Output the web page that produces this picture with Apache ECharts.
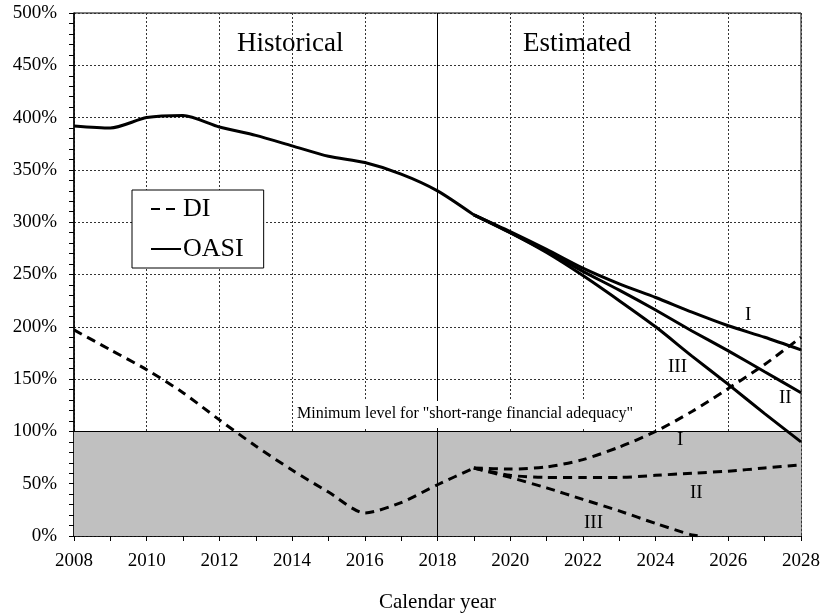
<!DOCTYPE html>
<html>
<head>
<meta charset="utf-8">
<script src="https://cdn.jsdelivr.net/npm/echarts@6/dist/echarts.min.js"></script>
<style>
  html, body { margin: 0; padding: 0; background: #fff; }
  #chart { width: 820px; height: 613px; }
</style>
</head>
<body>
<div id="chart"></div>
<script>
// trust fund ratios, % of annual cost
var histYears = [2008, 2009, 2010, 2011, 2012, 2013, 2014, 2015, 2016, 2017, 2018, 2019];
var diHist   = [197, 178, 159, 137, 111, 86, 63, 42, 22, 32, 49, 65];
var oasiHist = [392, 390, 400, 402, 391, 383, 373, 363, 357, 346, 330, 307];

var projYears = [2019, 2020, 2021, 2022, 2023, 2024, 2025, 2026, 2027, 2028];
var diI    = [65, 64, 66, 73, 85, 100, 119, 141, 164, 190];
var diII   = [65, 58, 56, 56, 56, 58, 60, 62, 65, 68];
var diIII  = [65, 56, 46, 35, 24, 12, 1];
var diIIIEnd = [2025.3, 0];
var oasiI   = [307, 291, 274, 256, 241, 228, 214, 201, 190, 178];
var oasiII  = [307, 290, 272, 253, 235, 216, 196, 177, 157, 137];
var oasiIII = [307, 290, 271, 249, 225, 200, 172, 145, 117, 90];

var font = 'Liberation Serif, Times New Roman, serif';

function pairs(xs, ys) {
  var out = [];
  for (var i = 0; i < ys.length; i++) out.push([xs[i], ys[i]]);
  return out;
}

var dashed = {color: '#000', width: 3, type: [9, 6]};
var solid = {color: '#000', width: 3, type: 'solid'};

function line(name, data, style) {
  return {
    name: name, type: 'line', data: data, smooth: 0.25,
    symbol: 'none', lineStyle: style, itemStyle: {color: '#000'}, z: 5
  };
}

var diIIIData = pairs(projYears, diIII);
diIIIData.push(diIIIEnd);

var series = [
  line('DI', pairs(histYears, diHist), dashed),
  line('DI', pairs(projYears, diI), dashed),
  line('DI', pairs(projYears, diII), dashed),
  line('DI', diIIIData, dashed),
  line('OASI', pairs(histYears, oasiHist), solid),
  line('OASI', pairs(projYears, oasiI), solid),
  line('OASI', pairs(projYears, oasiII), solid),
  line('OASI', pairs(projYears, oasiIII), solid)
];

// shaded band below 100% and the historical / estimated divider
series[0].markArea = {
  silent: true,
  itemStyle: {color: '#c0c0c0'},
  data: [[{yAxis: 0}, {yAxis: 100}]]
};
series[0].markLine = {
  silent: true, symbol: 'none', label: {show: false},
  lineStyle: {color: '#000', width: 1, type: 'solid'},
  data: [{yAxis: 100}, {xAxis: 2018}]
};

var myChart = echarts.init(document.getElementById('chart'));

function txt(x, y, text, size, bg) {
  var el = {
    type: 'text', left: x, top: y, z: 100,
    style: {text: text, font: size + 'px ' + font, fill: '#000'}
  };
  if (bg) { el.style.backgroundColor = '#fff'; el.style.padding = [5, 1, 6, 1]; }
  return el;
}

var option = {
  animation: false,
  backgroundColor: '#fff',
  grid: {
    left: 74, right: 19, top: 13, bottom: 77, outerBoundsMode: 'none', containLabel: false,
    show: true, borderColor: '#000', borderWidth: 1, backgroundColor: 'transparent'
  },
  legend: {
    data: ['DI', 'OASI'],
    orient: 'vertical',
    left: 132, top: 190,
    backgroundColor: '#fff',
    borderColor: '#000', borderWidth: 1,
    padding: [6, 20, 6, 18],
    itemWidth: 30, itemHeight: 14, itemGap: 14,
    selectedMode: false,
    itemStyle: {color: 'transparent', borderColor: 'transparent', borderWidth: 0, opacity: 0},
    textStyle: {fontFamily: font, fontSize: 26, color: '#000', lineHeight: 26, padding: [0, 0, 0, -3]}
  },
  xAxis: {
    type: 'value', min: 2008, max: 2028, interval: 2,
    name: 'Calendar year', nameLocation: 'middle', nameGap: 56,
    nameTextStyle: {fontFamily: font, fontSize: 21, color: '#000'},
    axisLine: {show: true, lineStyle: {color: '#000', width: 1.5}},
    axisTick: {show: true, length: 5, lineStyle: {color: '#000'}},
    minorTick: {show: true, splitNumber: 2, length: 5, lineStyle: {color: '#000'}},
    axisLabel: {fontFamily: font, fontSize: 19, color: '#000', margin: 16, formatter: function (v) { return String(v); }},
    splitLine: {show: true, lineStyle: {color: '#333', width: 1, type: [2, 2]}}
  },
  yAxis: {
    type: 'value', min: 0, max: 500, interval: 50,
    axisLine: {show: true, lineStyle: {color: '#000', width: 1.5}},
    axisTick: {show: true, length: 5, lineStyle: {color: '#000'}},
    minorTick: {show: true, splitNumber: 5, length: 5, lineStyle: {color: '#000'}},
    axisLabel: {fontFamily: font, fontSize: 19, color: '#000', margin: 17, formatter: '{value}%'},
    splitLine: {show: true, lineStyle: {color: '#333', width: 1, type: [2, 2]}}
  },
  graphic: [
    txt(237, 30, 'Historical', 27),
    txt(523, 30, 'Estimated', 27),
    txt(296, 401, 'Minimum level for "short-range financial adequacy"', 16, true),
    txt(745, 306, 'I', 19),
    txt(779, 389, 'II', 19),
    txt(668, 358, 'III', 19),
    txt(677, 431, 'I', 19),
    txt(690, 484, 'II', 19),
    txt(584, 514, 'III', 19)
  ],
  series: series
};

myChart.setOption(option);
</script>
</body>
</html>
